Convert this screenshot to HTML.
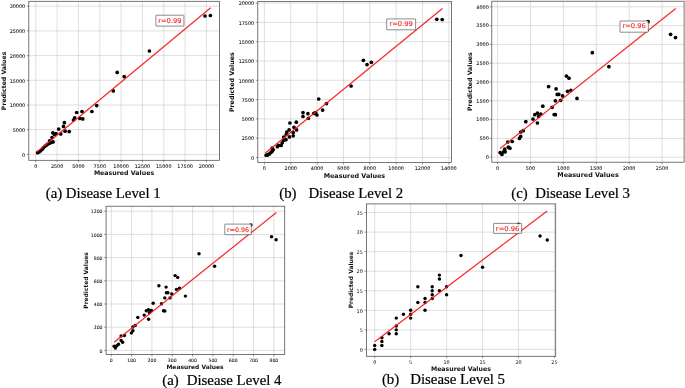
<!DOCTYPE html>
<html><head><meta charset="utf-8"><title>Predicted vs Measured Values</title>
<style>html,body{margin:0;padding:0;background:#fff}body{width:685px;height:388px;overflow:hidden}svg{display:block;filter:blur(0.3px)}</style>
</head><body>
<svg width="685" height="388" viewBox="0 0 685 388">
<rect width="685" height="388" fill="#fff"/>
<g>
<path d="M35.8 1.3V160.3M57.13 1.3V160.3M78.46 1.3V160.3M99.79 1.3V160.3M121.12 1.3V160.3M142.45 1.3V160.3M163.78 1.3V160.3M185.11 1.3V160.3M206.44 1.3V160.3M28.8 154.4H219.5M28.8 129.7H219.5M28.8 105H219.5M28.8 80.3H219.5M28.8 55.6H219.5M28.8 30.9H219.5M28.8 6.2H219.5" stroke="#c8c8c8" stroke-width="0.58" fill="none"/>
<path d="M35.8 160.3v2M57.13 160.3v2M78.46 160.3v2M99.79 160.3v2M121.12 160.3v2M142.45 160.3v2M163.78 160.3v2M185.11 160.3v2M206.44 160.3v2M28.8 154.4h-2M28.8 129.7h-2M28.8 105h-2M28.8 80.3h-2M28.8 55.6h-2M28.8 30.9h-2M28.8 6.2h-2" stroke="#333" stroke-width="0.5" fill="none"/>
<g fill="#000">
<circle cx="37.6" cy="152.7" r="1.85"/>
<circle cx="38.9" cy="151.9" r="1.85"/>
<circle cx="40.5" cy="150.8" r="1.85"/>
<circle cx="42.1" cy="149.5" r="1.85"/>
<circle cx="43.2" cy="147.9" r="1.85"/>
<circle cx="44.8" cy="146.3" r="1.85"/>
<circle cx="46.4" cy="145.2" r="1.85"/>
<circle cx="48" cy="143.9" r="1.85"/>
<circle cx="49.6" cy="143.2" r="1.85"/>
<circle cx="51.2" cy="142.4" r="1.85"/>
<circle cx="53.1" cy="141.9" r="1.85"/>
<circle cx="49.6" cy="140.8" r="1.85"/>
<circle cx="52" cy="137.6" r="1.85"/>
<circle cx="52.8" cy="132.8" r="1.85"/>
<circle cx="54.4" cy="134.4" r="1.85"/>
<circle cx="56" cy="133.6" r="1.85"/>
<circle cx="58.7" cy="129.1" r="1.85"/>
<circle cx="60.8" cy="133.9" r="1.85"/>
<circle cx="63.5" cy="126.4" r="1.85"/>
<circle cx="64.4" cy="122.7" r="1.85"/>
<circle cx="65.1" cy="131.2" r="1.85"/>
<circle cx="69.2" cy="131.6" r="1.85"/>
<circle cx="73.5" cy="120" r="1.85"/>
<circle cx="74.7" cy="117.9" r="1.85"/>
<circle cx="76.7" cy="112.5" r="1.85"/>
<circle cx="79.9" cy="118.4" r="1.85"/>
<circle cx="82" cy="111.5" r="1.85"/>
<circle cx="82.8" cy="118.9" r="1.85"/>
<circle cx="91.9" cy="111.5" r="1.85"/>
<circle cx="96.7" cy="105.6" r="1.85"/>
<circle cx="113.3" cy="90.9" r="1.85"/>
<circle cx="117.2" cy="72.4" r="1.85"/>
<circle cx="124.2" cy="76.7" r="1.85"/>
<circle cx="149.4" cy="51" r="1.85"/>
<circle cx="205" cy="16" r="1.85"/>
<circle cx="210.4" cy="15.5" r="1.85"/>
</g>
<path d="M36.8 151.9L210.7 7.8" stroke="#f81c1c" stroke-opacity="0.95" stroke-width="1.25" fill="none"/>
<rect x="28.8" y="1.3" width="190.7" height="159" fill="none" stroke="#4a4a4a" stroke-width="0.75"/>
<rect x="155.9" y="15.2" width="28" height="10.9" rx="0.3" fill="#fff" fill-opacity="0.88" stroke="#2e2e2e" stroke-width="0.55"/>
<text x="169.9" y="23.05" font-family="'DejaVu Sans','Liberation Sans',sans-serif" font-size="6.75" fill="#f52d2d" stroke="#f52d2d" stroke-width="0.15" text-anchor="middle">r=0.99</text>
<g font-family="'DejaVu Sans','Liberation Sans',sans-serif" font-size="4.9" fill="#111" stroke="#111" stroke-width="0.07">
<text x="35.8" y="167.69" text-anchor="middle">0</text>
<text x="57.13" y="167.69" text-anchor="middle">2500</text>
<text x="78.46" y="167.69" text-anchor="middle">5000</text>
<text x="99.79" y="167.69" text-anchor="middle">7500</text>
<text x="121.12" y="167.69" text-anchor="middle">10000</text>
<text x="142.45" y="167.69" text-anchor="middle">12500</text>
<text x="163.78" y="167.69" text-anchor="middle">15000</text>
<text x="185.11" y="167.69" text-anchor="middle">17500</text>
<text x="206.44" y="167.69" text-anchor="middle">20000</text>
<text x="25.2" y="156.66" text-anchor="end">0</text>
<text x="25.2" y="131.96" text-anchor="end">5000</text>
<text x="25.2" y="107.26" text-anchor="end">10000</text>
<text x="25.2" y="82.56" text-anchor="end">15000</text>
<text x="25.2" y="57.86" text-anchor="end">20000</text>
<text x="25.2" y="33.16" text-anchor="end">25000</text>
<text x="25.2" y="8.46" text-anchor="end">30000</text>
</g>
<text x="124" y="175.06" font-family="'DejaVu Sans','Liberation Sans',sans-serif" font-weight="bold" font-size="6.28" fill="#111" text-anchor="middle">Measured Values</text>
<text transform="translate(5.52 80.9) rotate(-90)" font-family="'DejaVu Sans','Liberation Sans',sans-serif" font-weight="bold" font-size="6.17" fill="#111" text-anchor="middle">Predicted Values</text>
<text y="197.9" font-family="'Liberation Serif',serif" font-size="14.85" fill="#000" stroke="#000" stroke-width="0.2"><tspan x="45.7">(a) Disease Level 1</tspan></text>
</g>
<g>
<path d="M264.4 1.4V162.6M290.75 1.4V162.6M317.1 1.4V162.6M343.45 1.4V162.6M369.8 1.4V162.6M396.15 1.4V162.6M422.5 1.4V162.6M448.85 1.4V162.6M257.8 157.5H451.6M257.8 138.2H451.6M257.8 118.9H451.6M257.8 99.6H451.6M257.8 80.3H451.6M257.8 61H451.6M257.8 41.7H451.6M257.8 22.4H451.6M257.8 3.1H451.6" stroke="#c8c8c8" stroke-width="0.58" fill="none"/>
<path d="M264.4 162.6v2M290.75 162.6v2M317.1 162.6v2M343.45 162.6v2M369.8 162.6v2M396.15 162.6v2M422.5 162.6v2M448.85 162.6v2M257.8 157.5h-2M257.8 138.2h-2M257.8 118.9h-2M257.8 99.6h-2M257.8 80.3h-2M257.8 61h-2M257.8 41.7h-2M257.8 22.4h-2M257.8 3.1h-2" stroke="#333" stroke-width="0.5" fill="none"/>
<g fill="#000">
<circle cx="266.2" cy="155.2" r="1.85"/>
<circle cx="267.7" cy="154.9" r="1.85"/>
<circle cx="269.3" cy="153.9" r="1.85"/>
<circle cx="270.8" cy="152.6" r="1.85"/>
<circle cx="272.1" cy="151.3" r="1.85"/>
<circle cx="273.2" cy="149.7" r="1.85"/>
<circle cx="272.1" cy="148.2" r="1.85"/>
<circle cx="277.3" cy="146.7" r="1.85"/>
<circle cx="278.6" cy="145.4" r="1.85"/>
<circle cx="281.1" cy="145.4" r="1.85"/>
<circle cx="282.2" cy="142.8" r="1.85"/>
<circle cx="283.7" cy="140.2" r="1.85"/>
<circle cx="283.7" cy="137.1" r="1.85"/>
<circle cx="286" cy="139.7" r="1.85"/>
<circle cx="286.3" cy="134.3" r="1.85"/>
<circle cx="286.8" cy="132" r="1.85"/>
<circle cx="289.1" cy="129.9" r="1.85"/>
<circle cx="289.4" cy="136.9" r="1.85"/>
<circle cx="289.9" cy="123" r="1.85"/>
<circle cx="293.2" cy="135.8" r="1.85"/>
<circle cx="293.2" cy="132.5" r="1.85"/>
<circle cx="294" cy="127.3" r="1.85"/>
<circle cx="296.3" cy="122.2" r="1.85"/>
<circle cx="296.6" cy="129.9" r="1.85"/>
<circle cx="303" cy="112.7" r="1.85"/>
<circle cx="303" cy="116.5" r="1.85"/>
<circle cx="307.9" cy="113.7" r="1.85"/>
<circle cx="308.4" cy="118.3" r="1.85"/>
<circle cx="313.8" cy="113.4" r="1.85"/>
<circle cx="315.7" cy="112.7" r="1.85"/>
<circle cx="316.9" cy="115" r="1.85"/>
<circle cx="318.7" cy="99" r="1.85"/>
<circle cx="322.6" cy="110.1" r="1.85"/>
<circle cx="326.5" cy="103.6" r="1.85"/>
<circle cx="351.1" cy="86" r="1.85"/>
<circle cx="363.4" cy="60.3" r="1.85"/>
<circle cx="367" cy="64.6" r="1.85"/>
<circle cx="371.4" cy="62.3" r="1.85"/>
<circle cx="436.8" cy="19.3" r="1.85"/>
<circle cx="442.2" cy="19.6" r="1.85"/>
</g>
<path d="M265.4 153.1L442.5 8.5" stroke="#f81c1c" stroke-opacity="0.95" stroke-width="1.25" fill="none"/>
<rect x="257.8" y="1.4" width="193.8" height="161.2" fill="none" stroke="#4a4a4a" stroke-width="0.75"/>
<rect x="386.7" y="18.9" width="28.9" height="10.9" rx="0.3" fill="#fff" fill-opacity="0.88" stroke="#2e2e2e" stroke-width="0.55"/>
<text x="401.15" y="26.25" font-family="'DejaVu Sans','Liberation Sans',sans-serif" font-size="6.75" fill="#f52d2d" stroke="#f52d2d" stroke-width="0.15" text-anchor="middle">r=0.99</text>
<g font-family="'DejaVu Sans','Liberation Sans',sans-serif" font-size="4.9" fill="#111" stroke="#111" stroke-width="0.07">
<text x="264.4" y="169.59" text-anchor="middle">0</text>
<text x="290.75" y="169.59" text-anchor="middle">2000</text>
<text x="317.1" y="169.59" text-anchor="middle">4000</text>
<text x="343.45" y="169.59" text-anchor="middle">6000</text>
<text x="369.8" y="169.59" text-anchor="middle">8000</text>
<text x="396.15" y="169.59" text-anchor="middle">10000</text>
<text x="422.5" y="169.59" text-anchor="middle">12000</text>
<text x="448.85" y="169.59" text-anchor="middle">14000</text>
<text x="254.2" y="159.76" text-anchor="end">0</text>
<text x="254.2" y="140.46" text-anchor="end">2500</text>
<text x="254.2" y="121.16" text-anchor="end">5000</text>
<text x="254.2" y="101.86" text-anchor="end">7500</text>
<text x="254.2" y="82.56" text-anchor="end">10000</text>
<text x="254.2" y="63.26" text-anchor="end">12500</text>
<text x="254.2" y="43.96" text-anchor="end">15000</text>
<text x="254.2" y="24.66" text-anchor="end">17500</text>
<text x="254.2" y="5.36" text-anchor="end">20000</text>
</g>
<text x="354.4" y="177.5" font-family="'DejaVu Sans','Liberation Sans',sans-serif" font-weight="bold" font-size="6.4" fill="#111" text-anchor="middle">Measured Values</text>
<text transform="translate(234.37 82.2) rotate(-90)" font-family="'DejaVu Sans','Liberation Sans',sans-serif" font-weight="bold" font-size="6.3" fill="#111" text-anchor="middle">Predicted Values</text>
<text y="197.9" font-family="'Liberation Serif',serif" font-size="14.85" fill="#000" stroke="#000" stroke-width="0.2"><tspan x="279.2">(b)</tspan><tspan x="308.4">Disease Level 2</tspan></text>
</g>
<g>
<path d="M497.5 1.2V162.2M530.42 1.2V162.2M563.34 1.2V162.2M596.26 1.2V162.2M629.18 1.2V162.2M662.1 1.2V162.2M491.8 157.2H684.1M491.8 138.4H684.1M491.8 119.6H684.1M491.8 100.8H684.1M491.8 82H684.1M491.8 63.2H684.1M491.8 44.4H684.1M491.8 25.6H684.1M491.8 6.8H684.1" stroke="#c8c8c8" stroke-width="0.58" fill="none"/>
<path d="M497.5 162.2v2M530.42 162.2v2M563.34 162.2v2M596.26 162.2v2M629.18 162.2v2M662.1 162.2v2M491.8 157.2h-2M491.8 138.4h-2M491.8 119.6h-2M491.8 100.8h-2M491.8 82h-2M491.8 63.2h-2M491.8 44.4h-2M491.8 25.6h-2M491.8 6.8h-2" stroke="#333" stroke-width="0.5" fill="none"/>
<g fill="#000">
<circle cx="500.1" cy="152.6" r="1.85"/>
<circle cx="501.9" cy="154.4" r="1.85"/>
<circle cx="503.4" cy="151.8" r="1.85"/>
<circle cx="504.7" cy="149.2" r="1.85"/>
<circle cx="505.2" cy="151.8" r="1.85"/>
<circle cx="507.8" cy="142" r="1.85"/>
<circle cx="508.3" cy="147.2" r="1.85"/>
<circle cx="509.9" cy="148.2" r="1.85"/>
<circle cx="512.2" cy="141.5" r="1.85"/>
<circle cx="519.4" cy="138.4" r="1.85"/>
<circle cx="520.7" cy="136.4" r="1.85"/>
<circle cx="520.7" cy="132" r="1.85"/>
<circle cx="523.2" cy="130.7" r="1.85"/>
<circle cx="525.8" cy="121.7" r="1.85"/>
<circle cx="533" cy="119.1" r="1.85"/>
<circle cx="534.8" cy="114.7" r="1.85"/>
<circle cx="537.4" cy="113.2" r="1.85"/>
<circle cx="537.4" cy="123" r="1.85"/>
<circle cx="538.7" cy="116.5" r="1.85"/>
<circle cx="540.8" cy="114" r="1.85"/>
<circle cx="542.8" cy="106.2" r="1.85"/>
<circle cx="552.1" cy="107.3" r="1.85"/>
<circle cx="554.2" cy="114.5" r="1.85"/>
<circle cx="555.4" cy="114.7" r="1.85"/>
<circle cx="555.4" cy="100.8" r="1.85"/>
<circle cx="557.2" cy="94.4" r="1.85"/>
<circle cx="558.8" cy="94.4" r="1.85"/>
<circle cx="560.6" cy="100.3" r="1.85"/>
<circle cx="562.6" cy="95.9" r="1.85"/>
<circle cx="567.5" cy="91.3" r="1.85"/>
<circle cx="548.6" cy="86.6" r="1.85"/>
<circle cx="556.1" cy="88.9" r="1.85"/>
<circle cx="566.4" cy="76.1" r="1.85"/>
<circle cx="569" cy="78.2" r="1.85"/>
<circle cx="570.9" cy="90.3" r="1.85"/>
<circle cx="577" cy="98.4" r="1.85"/>
<circle cx="592.3" cy="52.7" r="1.85"/>
<circle cx="608.9" cy="66.7" r="1.85"/>
<circle cx="648.1" cy="21.7" r="1.85"/>
<circle cx="670.6" cy="34.3" r="1.85"/>
<circle cx="675.5" cy="37.6" r="1.85"/>
</g>
<path d="M500.1 148.5L675.7 8.5" stroke="#f81c1c" stroke-opacity="0.95" stroke-width="1.25" fill="none"/>
<rect x="491.8" y="1.2" width="192.3" height="161" fill="none" stroke="#4a4a4a" stroke-width="0.75"/>
<rect x="620" y="21" width="28.3" height="11.2" rx="0.3" fill="#fff" fill-opacity="0.88" stroke="#2e2e2e" stroke-width="0.55"/>
<text x="634.15" y="28.25" font-family="'DejaVu Sans','Liberation Sans',sans-serif" font-size="6.75" fill="#f52d2d" stroke="#f52d2d" stroke-width="0.15" text-anchor="middle">r=0.96</text>
<g font-family="'DejaVu Sans','Liberation Sans',sans-serif" font-size="4.9" fill="#111" stroke="#111" stroke-width="0.07">
<text x="497.5" y="169.79" text-anchor="middle">0</text>
<text x="530.42" y="169.79" text-anchor="middle">500</text>
<text x="563.34" y="169.79" text-anchor="middle">1000</text>
<text x="596.26" y="169.79" text-anchor="middle">1500</text>
<text x="629.18" y="169.79" text-anchor="middle">2000</text>
<text x="662.1" y="169.79" text-anchor="middle">2500</text>
<text x="488.8" y="159.06" text-anchor="end">0</text>
<text x="488.8" y="140.26" text-anchor="end">500</text>
<text x="488.8" y="121.46" text-anchor="end">1000</text>
<text x="488.8" y="102.66" text-anchor="end">1500</text>
<text x="488.8" y="83.86" text-anchor="end">2000</text>
<text x="488.8" y="65.06" text-anchor="end">2500</text>
<text x="488.8" y="46.26" text-anchor="end">3000</text>
<text x="488.8" y="27.46" text-anchor="end">3500</text>
<text x="488.8" y="8.66" text-anchor="end">4000</text>
</g>
<text x="588" y="177.2" font-family="'DejaVu Sans','Liberation Sans',sans-serif" font-weight="bold" font-size="6.4" fill="#111" text-anchor="middle">Measured Values</text>
<text transform="translate(471.53 81.7) rotate(-90)" font-family="'DejaVu Sans','Liberation Sans',sans-serif" font-weight="bold" font-size="6.2" fill="#111" text-anchor="middle">Predicted Values</text>
<text y="197.9" font-family="'Liberation Serif',serif" font-size="14.85" fill="#000" stroke="#000" stroke-width="0.2"><tspan x="511.3">(c)</tspan><tspan x="535.2">Disease Level 3</tspan></text>
</g>
<g>
<path d="M111.3 206.2V354.5M131.62 206.2V354.5M151.94 206.2V354.5M172.26 206.2V354.5M192.58 206.2V354.5M212.9 206.2V354.5M233.22 206.2V354.5M253.54 206.2V354.5M273.86 206.2V354.5M106.1 350.4H284.7M106.1 327.2H284.7M106.1 304H284.7M106.1 280.8H284.7M106.1 257.6H284.7M106.1 234.4H284.7M106.1 211.2H284.7" stroke="#c8c8c8" stroke-width="0.58" fill="none"/>
<path d="M111.3 354.5v2M131.62 354.5v2M151.94 354.5v2M172.26 354.5v2M192.58 354.5v2M212.9 354.5v2M233.22 354.5v2M253.54 354.5v2M273.86 354.5v2M106.1 350.4h-2M106.1 327.2h-2M106.1 304h-2M106.1 280.8h-2M106.1 257.6h-2M106.1 234.4h-2M106.1 211.2h-2" stroke="#333" stroke-width="0.5" fill="none"/>
<g fill="#000">
<circle cx="114.1" cy="346.3" r="1.72"/>
<circle cx="115.4" cy="348.1" r="1.72"/>
<circle cx="116.9" cy="345.8" r="1.72"/>
<circle cx="118.5" cy="344.2" r="1.72"/>
<circle cx="121.1" cy="340.4" r="1.72"/>
<circle cx="122.6" cy="342.2" r="1.72"/>
<circle cx="121.1" cy="336" r="1.72"/>
<circle cx="124.4" cy="335.5" r="1.72"/>
<circle cx="131.4" cy="332.9" r="1.72"/>
<circle cx="132.9" cy="330.8" r="1.72"/>
<circle cx="132.9" cy="327" r="1.72"/>
<circle cx="135.2" cy="325.4" r="1.72"/>
<circle cx="137.8" cy="317.4" r="1.72"/>
<circle cx="144.2" cy="315.1" r="1.72"/>
<circle cx="146.3" cy="310.8" r="1.72"/>
<circle cx="148.4" cy="309.7" r="1.72"/>
<circle cx="148.6" cy="319.3" r="1.72"/>
<circle cx="149.4" cy="312.6" r="1.72"/>
<circle cx="151.4" cy="310.5" r="1.72"/>
<circle cx="153.2" cy="303.3" r="1.72"/>
<circle cx="161.5" cy="303.8" r="1.72"/>
<circle cx="163.5" cy="310.8" r="1.72"/>
<circle cx="164.8" cy="311" r="1.72"/>
<circle cx="164.8" cy="297.9" r="1.72"/>
<circle cx="166.4" cy="292.7" r="1.72"/>
<circle cx="167.9" cy="292.7" r="1.72"/>
<circle cx="170" cy="297.9" r="1.72"/>
<circle cx="171.8" cy="294" r="1.72"/>
<circle cx="166.1" cy="287.1" r="1.72"/>
<circle cx="158.9" cy="285.8" r="1.72"/>
<circle cx="176.4" cy="289.4" r="1.72"/>
<circle cx="179.5" cy="288.3" r="1.72"/>
<circle cx="185.4" cy="296.1" r="1.72"/>
<circle cx="175.1" cy="275.6" r="1.72"/>
<circle cx="177.7" cy="277.4" r="1.72"/>
<circle cx="199" cy="253.7" r="1.72"/>
<circle cx="214.6" cy="266.3" r="1.72"/>
<circle cx="250.9" cy="224.9" r="1.72"/>
<circle cx="271.5" cy="236.7" r="1.72"/>
<circle cx="276.1" cy="239.8" r="1.72"/>
</g>
<path d="M114.1 342.2L276.4 212.5" stroke="#f81c1c" stroke-opacity="0.95" stroke-width="1.25" fill="none"/>
<rect x="106.1" y="206.2" width="178.6" height="148.3" fill="none" stroke="#4a4a4a" stroke-width="0.75"/>
<rect x="224.8" y="224.1" width="26.5" height="10.6" rx="0.3" fill="#fff" fill-opacity="0.88" stroke="#2e2e2e" stroke-width="0.55"/>
<text x="238.05" y="231.65" font-family="'DejaVu Sans','Liberation Sans',sans-serif" font-size="6.3" fill="#f52d2d" stroke="#f52d2d" stroke-width="0.15" text-anchor="middle">r=0.96</text>
<g font-family="'DejaVu Sans','Liberation Sans',sans-serif" font-size="4.6" fill="#111" stroke="#111" stroke-width="0.06">
<text x="111.3" y="361.88" text-anchor="middle">0</text>
<text x="131.62" y="361.88" text-anchor="middle">100</text>
<text x="151.94" y="361.88" text-anchor="middle">200</text>
<text x="172.26" y="361.88" text-anchor="middle">300</text>
<text x="192.58" y="361.88" text-anchor="middle">400</text>
<text x="212.9" y="361.88" text-anchor="middle">500</text>
<text x="233.22" y="361.88" text-anchor="middle">600</text>
<text x="253.54" y="361.88" text-anchor="middle">700</text>
<text x="273.86" y="361.88" text-anchor="middle">800</text>
<text x="102.5" y="352.56" text-anchor="end">0</text>
<text x="102.5" y="329.36" text-anchor="end">200</text>
<text x="102.5" y="306.16" text-anchor="end">400</text>
<text x="102.5" y="282.96" text-anchor="end">600</text>
<text x="102.5" y="259.76" text-anchor="end">800</text>
<text x="102.5" y="236.56" text-anchor="end">1000</text>
<text x="102.5" y="213.36" text-anchor="end">1200</text>
</g>
<text x="195" y="368.74" font-family="'DejaVu Sans','Liberation Sans',sans-serif" font-weight="bold" font-size="5.95" fill="#111" text-anchor="middle">Measured Values</text>
<text transform="translate(88.24 280.5) rotate(-90)" font-family="'DejaVu Sans','Liberation Sans',sans-serif" font-weight="bold" font-size="5.95" fill="#111" text-anchor="middle">Predicted Values</text>
<text y="384.6" font-family="'Liberation Serif',serif" font-size="14.85" fill="#000" stroke="#000" stroke-width="0.2"><tspan x="162.2">(a)</tspan><tspan x="186.7">Disease Level 4</tspan></text>
</g>
<g>
<path d="M374.7 203.9V356.3M410.65 203.9V356.3M446.6 203.9V356.3M482.55 203.9V356.3M518.5 203.9V356.3M554.45 203.9V356.3M366.4 349.4H555.7M366.4 329.85H555.7M366.4 310.3H555.7M366.4 290.75H555.7M366.4 271.2H555.7M366.4 251.65H555.7M366.4 232.1H555.7M366.4 212.55H555.7" stroke="#c8c8c8" stroke-width="0.58" fill="none"/>
<path d="M374.7 356.3v2M410.65 356.3v2M446.6 356.3v2M482.55 356.3v2M518.5 356.3v2M554.45 356.3v2M366.4 349.4h-2M366.4 329.85h-2M366.4 310.3h-2M366.4 290.75h-2M366.4 271.2h-2M366.4 251.65h-2M366.4 232.1h-2M366.4 212.55h-2" stroke="#333" stroke-width="0.5" fill="none"/>
<g fill="#000">
<circle cx="374.7" cy="349.4" r="1.72"/>
<circle cx="374.7" cy="345.49" r="1.72"/>
<circle cx="381.89" cy="345.49" r="1.72"/>
<circle cx="381.89" cy="341.58" r="1.72"/>
<circle cx="381.89" cy="337.67" r="1.72"/>
<circle cx="389.08" cy="333.76" r="1.72"/>
<circle cx="396.27" cy="333.76" r="1.72"/>
<circle cx="396.27" cy="329.85" r="1.72"/>
<circle cx="396.27" cy="325.94" r="1.72"/>
<circle cx="396.27" cy="318.12" r="1.72"/>
<circle cx="403.46" cy="314.21" r="1.72"/>
<circle cx="410.65" cy="318.12" r="1.72"/>
<circle cx="410.65" cy="314.21" r="1.72"/>
<circle cx="410.65" cy="310.3" r="1.72"/>
<circle cx="417.84" cy="302.48" r="1.72"/>
<circle cx="417.84" cy="286.84" r="1.72"/>
<circle cx="425.03" cy="310.3" r="1.72"/>
<circle cx="425.03" cy="302.48" r="1.72"/>
<circle cx="425.03" cy="298.57" r="1.72"/>
<circle cx="432.22" cy="298.57" r="1.72"/>
<circle cx="432.22" cy="294.66" r="1.72"/>
<circle cx="432.22" cy="290.75" r="1.72"/>
<circle cx="432.22" cy="286.84" r="1.72"/>
<circle cx="439.41" cy="290.75" r="1.72"/>
<circle cx="439.41" cy="279.02" r="1.72"/>
<circle cx="439.41" cy="275.11" r="1.72"/>
<circle cx="446.6" cy="294.66" r="1.72"/>
<circle cx="446.6" cy="286.84" r="1.72"/>
<circle cx="460.98" cy="255.56" r="1.72"/>
<circle cx="482.55" cy="267.29" r="1.72"/>
<circle cx="518.5" cy="224.28" r="1.72"/>
<circle cx="540.07" cy="236.01" r="1.72"/>
<circle cx="547.26" cy="239.92" r="1.72"/>
</g>
<path d="M374.7 341.7L547.2 211" stroke="#f81c1c" stroke-opacity="0.95" stroke-width="1.25" fill="none"/>
<rect x="366.4" y="203.9" width="189.3" height="152.4" fill="none" stroke="#4a4a4a" stroke-width="0.75"/>
<rect x="493.6" y="223.4" width="28" height="10" rx="0.3" fill="#fff" fill-opacity="0.88" stroke="#2e2e2e" stroke-width="0.55"/>
<text x="507.6" y="230.65" font-family="'DejaVu Sans','Liberation Sans',sans-serif" font-size="6.75" fill="#f52d2d" stroke="#f52d2d" stroke-width="0.15" text-anchor="middle">r=0.96</text>
<g font-family="'DejaVu Sans','Liberation Sans',sans-serif" font-size="4.9" fill="#222" stroke="#222" stroke-width="0.03">
<text x="374.7" y="363.59" text-anchor="middle">0</text>
<text x="410.65" y="363.59" text-anchor="middle">5</text>
<text x="446.6" y="363.59" text-anchor="middle">10</text>
<text x="482.55" y="363.59" text-anchor="middle">15</text>
<text x="518.5" y="363.59" text-anchor="middle">20</text>
<text x="554.45" y="363.59" text-anchor="middle">25</text>
<text x="362.8" y="351.66" text-anchor="end">0</text>
<text x="362.8" y="332.11" text-anchor="end">5</text>
<text x="362.8" y="312.56" text-anchor="end">10</text>
<text x="362.8" y="293.01" text-anchor="end">15</text>
<text x="362.8" y="273.46" text-anchor="end">20</text>
<text x="362.8" y="253.91" text-anchor="end">25</text>
<text x="362.8" y="234.36" text-anchor="end">30</text>
<text x="362.8" y="214.81" text-anchor="end">35</text>
</g>
<text x="460.9" y="370.95" font-family="'DejaVu Sans','Liberation Sans',sans-serif" font-weight="bold" font-size="6.24" fill="#111" text-anchor="middle">Measured Values</text>
<text transform="translate(352.65 280) rotate(-90)" font-family="'DejaVu Sans','Liberation Sans',sans-serif" font-weight="bold" font-size="5.98" fill="#111" text-anchor="middle">Predicted Values</text>
<text y="384.2" font-family="'Liberation Serif',serif" font-size="14.85" fill="#000" stroke="#000" stroke-width="0.2"><tspan x="381.9">(b)</tspan><tspan x="410.2">Disease Level 5</tspan></text>
</g>
</svg>
</body></html>
